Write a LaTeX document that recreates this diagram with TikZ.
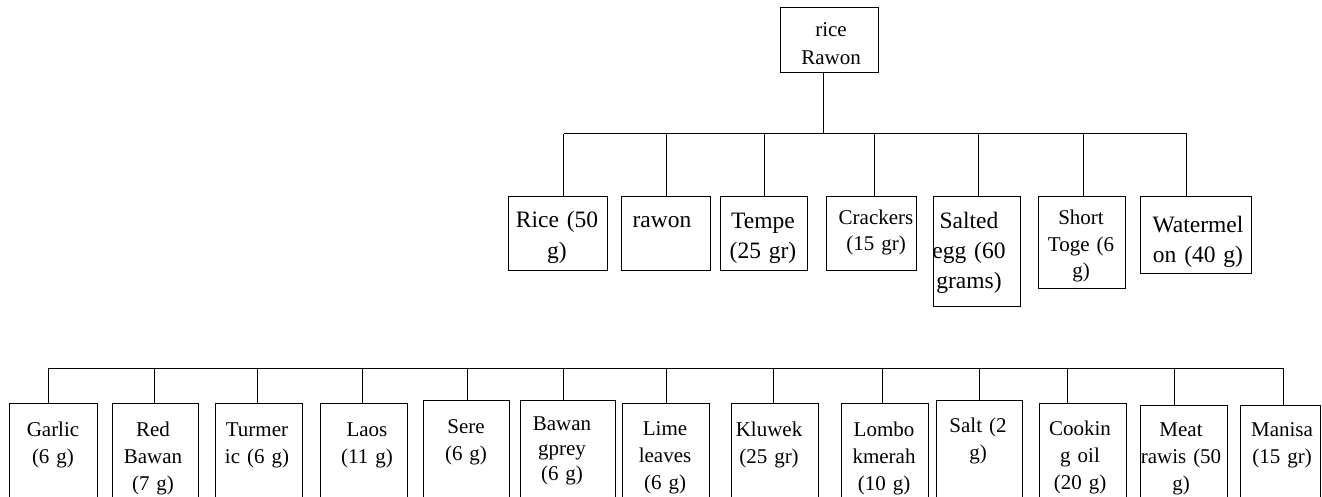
\documentclass[tikz,border=0pt]{standalone}
\usepackage{fontspec}
\setmainfont{Liberation Serif}
\tikzset{
  bx/.style={draw=black, line width=1pt, inner sep=0pt, anchor=north west},
  big/.style={font=\fontsize{23.5}{#1}\selectfont, text width=140pt, align=center, inner sep=0pt, anchor=base},
  big/.default=30.5,
  sml/.style={font=\fontsize{21}{#1}\selectfont, text width=140pt, align=center, inner sep=0pt, anchor=base},
  sml/.default=27,
  ln/.style={draw=black, line width=1pt},
}
\begin{document}
\begin{tikzpicture}[x=1pt, y=-1pt]
\useasboundingbox (0,0) rectangle (1322,497);
\clip (0,0) rectangle (1322,497);
\fill[white] (0,0) rectangle (1322,497);
% root
\node[bx, minimum width=98pt, minimum height=65pt] (root) at (780,7) {};
\node[sml=28] (rootT) at (831,37) {rice\\Rawon};
% top row
\node[bx, minimum width=99pt, minimum height=74pt] (rice) at (508,196) {};
\node[big=31] (riceT) at (557,227) {Rice (50\\g)};
\node[bx, minimum width=89pt, minimum height=74pt] (rawon) at (621,196) {};
\node[big] (rawonT) at (662,227) {rawon};
\node[bx, minimum width=87pt, minimum height=74pt] (tempe) at (720,196) {};
\node[big=30] (tempeT) at (763,229) {Tempe\\(25 gr)};
\node[bx, minimum width=90pt, minimum height=74pt] (crack) at (826,196) {};
\node[sml=26] (crackT) at (876,225) {Crackers\\(15 gr)};
\node[bx, minimum width=87pt, minimum height=110pt] (salted) at (933,196) {};
\node[big=30] (saltedT) at (969,229) {Salted\\egg (60\\grams)};
\node[bx, minimum width=87pt, minimum height=92pt] (short) at (1038,196) {};
\node[sml=26.5] (shortT) at (1081,225) {Short\\Toge (6\\g)};
\node[bx, minimum width=111pt, minimum height=77pt] (wm) at (1140,196) {};
\node[big=30] (wmT) at (1198,233) {Watermel\\on (40 g)};
% top connectors
\coordinate (tb) at (0,134);
\draw[ln] ([xshift=-6pt]root.south) -- ([xshift=-6pt]root.south |- tb);
\draw[ln] ([xshift=5.5pt]rice.north |- tb) -- ([xshift=-9.5pt]wm.north |- tb);
\foreach \n/\d in {rice/5.5, rawon/0.5, tempe/0, crack/3, salted/1.5, short/1.5, wm/-9.5}
  \draw[ln] ([xshift=\d pt]\n.north |- tb) -- ([xshift=\d pt]\n.north);
% bottom row
\node[bx, minimum width=88pt, minimum height=120pt] (garlic) at (9,403) {};
\node[sml] (garlicT) at (53,436) {Garlic\\(6 g)};
\node[bx, minimum width=86pt, minimum height=120pt] (redb) at (112,403) {};
\node[sml] (redbT) at (153,436) {Red\\Bawan\\(7 g)};
\node[bx, minimum width=87pt, minimum height=120pt] (turm) at (215,403) {};
\node[sml] (turmT) at (257,436) {Turmer\\ic (6 g)};
\node[bx, minimum width=87pt, minimum height=120pt] (laos) at (320,403) {};
\node[sml] (laosT) at (367,436) {Laos\\(11 g)};
\node[bx, minimum width=86pt, minimum height=120pt] (sere) at (423,400) {};
\node[sml] (sereT) at (466,433) {Sere\\(6 g)};
\node[bx, minimum width=95pt, minimum height=120pt] (bgp) at (520,400) {};
\node[sml=25] (bgpT) at (562,430) {Bawan\\gprey\\(6 g)};
\node[bx, minimum width=87pt, minimum height=120pt] (lime) at (622,403) {};
\node[sml] (limeT) at (665,435) {Lime\\leaves\\(6 g)};
\node[bx, minimum width=87pt, minimum height=120pt] (kluwek) at (731,403) {};
\node[sml] (kluwekT) at (769,436) {Kluwek\\(25 gr)};
\node[bx, minimum width=87pt, minimum height=120pt] (lombo) at (841,403) {};
\node[sml] (lomboT) at (884,436) {Lombo\\kmerah\\(10 g)};
\node[bx, minimum width=86pt, minimum height=120pt] (salt) at (936,400) {};
\node[sml] (saltT) at (978,432) {Salt (2\\g)};
\node[bx, minimum width=87pt, minimum height=120pt] (cook) at (1039,403) {};
\node[sml] (cookT) at (1080,435) {Cookin\\g oil\\(20 g)};
\node[bx, minimum width=87pt, minimum height=120pt] (meat) at (1140,405) {};
\node[sml] (meatT) at (1181,436) {Meat\\rawis (50\\g)};
\node[bx, minimum width=80pt, minimum height=120pt] (manisa) at (1240,405) {};
\node[sml] (manisaT) at (1282,436) {Manisa\\(15 gr)};
% bottom connectors
\coordinate (bb) at (0,368);
\draw[ln] ([xshift=-5pt]garlic.north |- bb) -- ([xshift=3pt]manisa.north |- bb);
\foreach \n/\d in {garlic/-5, redb/-1, turm/-1.5, laos/-1.5, sere/1, bgp/-4.5, lime/0.5, kluwek/-1.5, lombo/-2.5, salt/0, cook/-15.5, meat/-9.5, manisa/3}
  \draw[ln] ([xshift=\d pt]\n.north |- bb) -- ([xshift=\d pt]\n.north);
\end{tikzpicture}
\end{document}
